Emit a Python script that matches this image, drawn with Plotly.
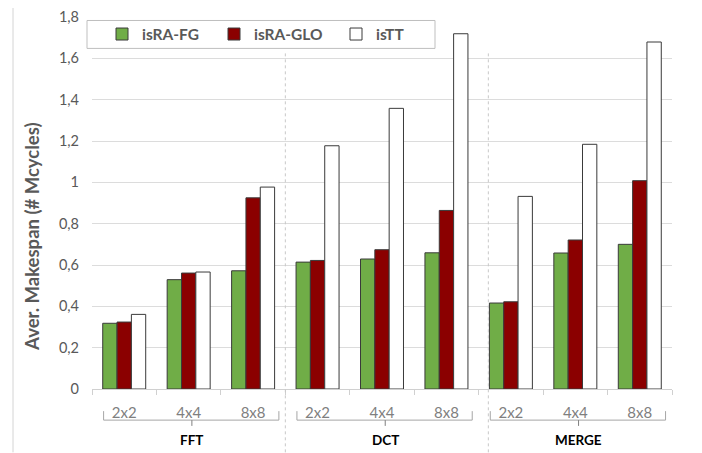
import plotly.graph_objects as go

# ---- data ----
groups = ["FFT", "DCT", "MERGE"]
sizes = ["2x2", "4x4", "8x8"]
isra_fg = [0.318, 0.529, 0.572, 0.614, 0.629, 0.659, 0.416, 0.658, 0.700]
isra_glo = [0.324, 0.561, 0.925, 0.622, 0.674, 0.864, 0.422, 0.721, 1.008]
istt = [0.361, 0.566, 0.977, 1.177, 1.358, 1.719, 0.932, 1.184, 1.679]
series_names = ["isRA-FG", "isRA-GLO", "isTT"]

categories = [f"{g} {s}" for g in groups for s in sizes]
tick_text = [s for g in groups for s in sizes]

# ---- geometry helpers (window pixels -> paper); page body has an 8px margin ----
OFF = 8
W, H = 702 - OFF, 453 - OFF
PL, PR, PT, PB = 92, 672, 16.5, 389.5          # plot area in window pixels
def px(xp):
    return (xp - PL) / (PR - PL)
def py(yp):
    return (PB - yp) / (PB - PT)

FONT = "Lato, Carlito, Calibri, sans-serif"
GRAY = "#595959"

fig = go.Figure()
colors = ["#70ad47", "#8b0000", "#ffffff"]
legend_ids = ["legend", "legend2", "legend3"]
for name, vals, col, lg in zip(series_names, [isra_fg, isra_glo, istt], colors, legend_ids):
    fig.add_trace(go.Bar(
        x=categories, y=vals, name=name, legend=lg,
        marker=dict(color=col, line=dict(color="#3a3a3a", width=1)),
    ))

shapes = []
# outer chart border (top and left)
shapes.append(dict(type="line", xref="paper", yref="paper",
                   x0=px(13), x1=px(683), y0=py(5), y1=py(5),
                   line=dict(color="#c4c4c4", width=1)))
shapes.append(dict(type="line", xref="paper", yref="paper",
                   x0=px(13), x1=px(13), y0=py(5), y1=py(453),
                   line=dict(color="#d4d4d4", width=1)))
# legend box
shapes.append(dict(type="rect", xref="paper", yref="paper",
                   x0=px(87), x1=px(435), y0=py(48), y1=py(20),
                   line=dict(color="#bfbfbf", width=1), fillcolor="white", layer="below"))

# group dividers (dotted)
for xd in [2.5, 5.65]:
    shapes.append(dict(type="line", xref="x", yref="paper",
                       x0=xd, x1=xd, y0=py(453), y1=py(53),
                       line=dict(color="#c8c8c8", width=1, dash="dot")))

annotations = []
# group brackets and labels
yb = py(420.7)
ye = py(411.7)
yt = py(426.5)
for gi, g in enumerate(groups):
    a = gi * 3 - 0.32
    b = gi * 3 + 2.4
    c = gi * 3 + 1.05
    bc = "#a6a6a6"
    shapes.append(dict(type="line", xref="x", yref="paper", x0=a, x1=b, y0=yb, y1=yb,
                       line=dict(color=bc, width=1)))
    shapes.append(dict(type="line", xref="x", yref="paper", x0=a, x1=a, y0=yb, y1=ye,
                       line=dict(color=bc, width=1)))
    shapes.append(dict(type="line", xref="x", yref="paper", x0=b, x1=b, y0=yb, y1=ye,
                       line=dict(color=bc, width=1)))
    shapes.append(dict(type="line", xref="x", yref="paper", x0=c, x1=c, y0=yb, y1=yt,
                       line=dict(color="#7f7f7f", width=1)))
    annotations.append(dict(text=f"<b>{g}</b>", xref="x", yref="paper", x=c, y=py(440.7),
                            xanchor="center", yanchor="middle", showarrow=False,
                            font=dict(family=FONT, size=13.5, color="#000000")))

# y axis title
annotations.append(dict(text="<b>Aver. Makespan (# Mcycles)</b>", xref="paper", yref="paper",
                        x=px(32), y=py(237), textangle=-90, showarrow=False,
                        xanchor="center", yanchor="middle",
                        font=dict(family=FONT, size=18.5, color=GRAY)))

legend_common = dict(orientation="h", xanchor="left", yanchor="middle", y=py(34),
                     bgcolor="rgba(0,0,0,0)", borderwidth=0,
                     font=dict(family=FONT, size=15.5, color=GRAY, weight="bold"))

fig.update_layout(
    width=W, height=H,
    margin=dict(l=PL - OFF, r=W - (PR - OFF), t=PT - OFF, b=H - (PB - OFF), pad=0,
                autoexpand=False),
    paper_bgcolor="white", plot_bgcolor="white",
    separators=",.",
    barmode="group", bargap=0.333, bargroupgap=0,
    font=dict(family=FONT, color=GRAY),
    showlegend=True,
    legend=dict(x=px(102), **legend_common),
    legend2=dict(x=px(214), **legend_common),
    legend3=dict(x=px(336), **legend_common),
    shapes=shapes,
    annotations=annotations,
    xaxis=dict(type="category", categoryorder="array", categoryarray=categories,
               tickmode="array", tickvals=categories, ticktext=tick_text,
               tickson="boundaries", ticks="outside", ticklen=5, tickcolor="#d0d0d0",
               showline=True, linecolor="#d0d0d0", linewidth=1,
               showgrid=False, ticklabelstandoff=10,
               tickfont=dict(family=FONT, size=15, color="#7f7f7f"),
               range=[-0.5, 8.5]),
    yaxis=dict(range=[0, 1.8], dtick=0.2, tick0=0, showgrid=True,
               gridcolor="#dcdcdc", gridwidth=1, zeroline=False,
               ticks="", showline=False, ticklabelstandoff=12,
               tickfont=dict(family=FONT, size=14.5, color=GRAY)),
)

fig.write_html("out.html")
